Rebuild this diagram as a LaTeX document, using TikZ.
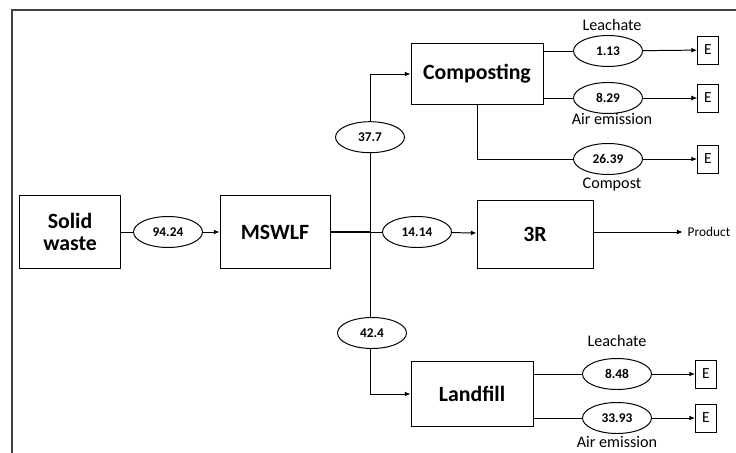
\documentclass[tikz,border=0pt]{standalone}
\usepackage{fontspec}
\setmainfont{Carlito}
\usetikzlibrary{positioning,arrows.meta,shapes.geometric}

\begin{document}
\begin{tikzpicture}[
  line width=0.7pt,
  box/.style={draw, align=center, font=\bfseries\fontsize{15.5}{16}\selectfont, inner sep=2pt},
  flow/.style={draw, ellipse, fill=white, font=\bfseries\fontsize{9.5}{10}\selectfont, minimum width=1.725cm, minimum height=0.775cm, inner sep=1pt},
  ebox/.style={draw, font=\fontsize{11}{12}\selectfont, minimum width=0.525cm, minimum height=0.7cm, inner sep=0pt},
  lab/.style={font=\fontsize{11.5}{12}\selectfont},
  arr/.style={-{Latex[length=1.4mm,width=1.2mm]}}]
  \useasboundingbox (0,0) rectangle (18.4,-11.325);
  \draw[line width=0.9pt, black!75] (0.3,-11.325) |- (18.4,-0.25);

  \node[box, minimum width=2.525cm, minimum height=1.825cm] (sw) at (1.75,-5.8) {Solid\\waste};
  \node[flow] (e9424) at (4.2,-5.8) {94.24};
  \node[box, minimum width=2.75cm, minimum height=1.825cm] (mswlf) at (6.875,-5.8) {MSWLF};
  \coordinate (jn) at (9.25,-5.8);
  \node[flow] (e377) at (9.25,-3.43) {37.7};
  \node[flow] (e1414) at (10.425,-5.8) {14.14};
  \node[flow] (e424) at (9.3,-8.325) {42.4};

  % composting branch
  \node[box, minimum width=3.3cm, minimum height=1.525cm] (comp) at (11.925,-1.85) {Composting};
  \node[flow] (e113) at (15.2,-1.275) {1.13};
  \node[flow] (e829) at (15.2,-2.45) {8.29};
  \node[flow] (e2639) at (15.2,-3.975) {26.39};
  \node[ebox] (ec1) at (17.7,-1.25) {E};
  \node[ebox] (ec2) at (17.7,-2.45) {E};
  \node[ebox] (ec3) at (17.7,-3.975) {E};
  \node[lab] (lc1) at (15.3,-0.625) {Leachate};
  \node[lab] (lc2) at (15.3,-2.975) {Air emission};
  \node[lab] (lc3) at (15.3,-4.625) {Compost};

  % 3R branch
  \node[box, minimum width=2.9cm, minimum height=1.7cm] (r3) at (13.375,-5.85) {3R};
  \node[font=\fontsize{9.5}{10}\selectfont] (prod) at (17.725,-5.8) {Product};

  % landfill branch
  \node[box, minimum width=3.05cm, minimum height=1.625cm] (land) at (11.8,-9.85) {Landfill};
  \node[flow] (e848) at (15.425,-9.35) {8.48};
  \node[flow] (e3393) at (15.425,-10.45) {33.93};
  \node[ebox] (el1) at (17.65,-9.35) {E};
  \node[ebox] (el2) at (17.65,-10.45) {E};
  \node[lab] (ll1) at (15.425,-8.525) {Leachate};
  \node[lab] (ll2) at (15.425,-11.05) {Air emission};

  \draw (sw) -- (e9424);
  \draw[arr] (e9424) -- (mswlf);
  \draw[line width=1.3pt] (mswlf) -- (jn);
  \draw (jn) -- (e377.south);
  \draw[arr] (e377.north) |- (comp.west);
  \draw (jn) -- (e1414);
  \draw[arr] (e1414) -- (r3);
  \draw (jn) -- (e424.north -| jn);
  \draw[arr] (e424.south -| jn) |- (land.west);

  \draw (comp.east |- e113) -- (e113);
  \draw[arr] (e113) -- (ec1);
  \draw (comp.east |- e829) -- (e829);
  \draw[arr, thin] (e829) -- (ec2);
  \draw (comp.south) |- (e2639);
  \draw[arr] (e2639) -- (ec3);

  \draw[arr, thin] (r3.east |- prod) -- (prod.west);

  \draw (land.east |- e848) -- (e848);
  \draw[arr] (e848) -- (el1);
  \draw (land.east |- e3393) -- (e3393);
  \draw[arr] (e3393) -- (el2);
\end{tikzpicture}
\end{document}
